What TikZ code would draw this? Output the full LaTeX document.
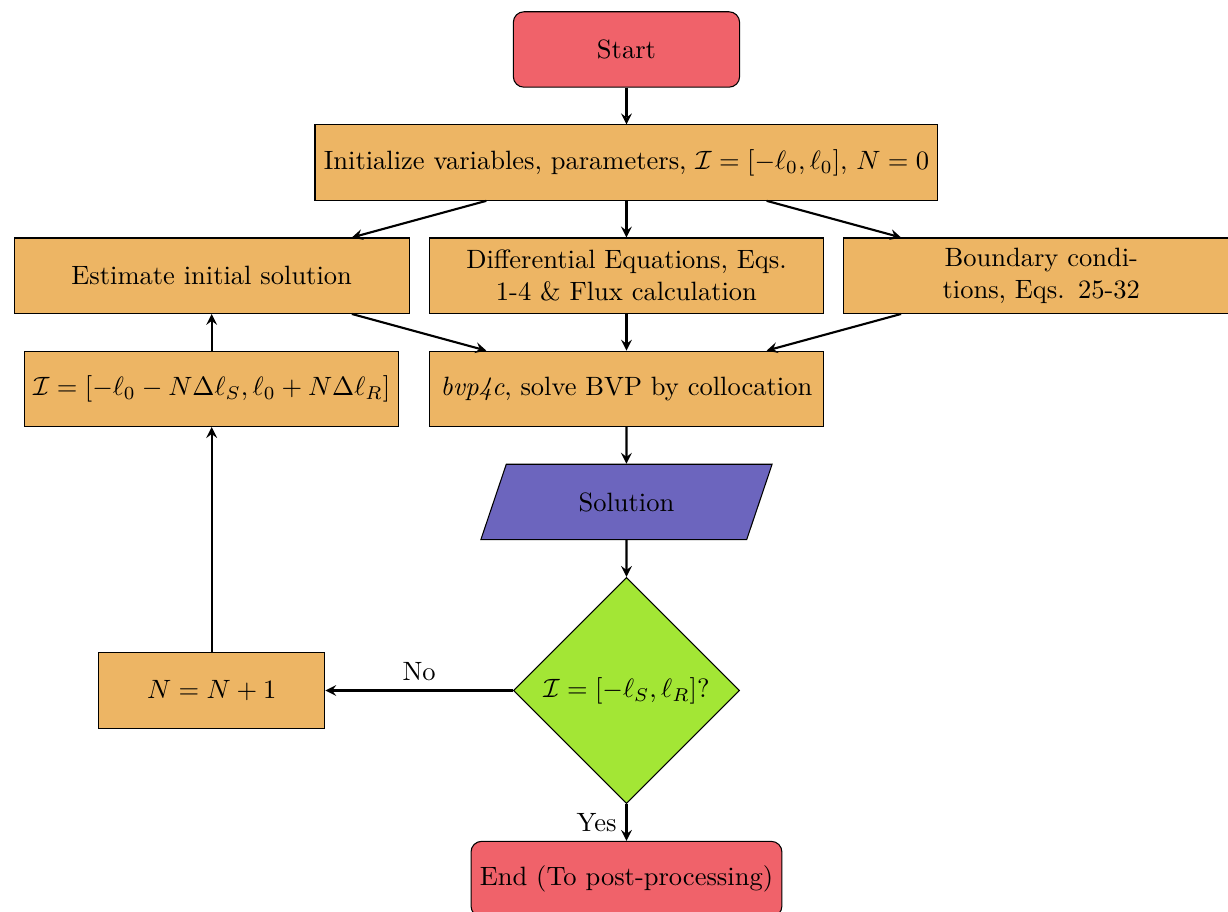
\documentclass[tikz,border=0pt]{standalone}
\usepackage{tikz}
\usetikzlibrary{positioning, shapes, arrows}

\definecolor{termred}{RGB}{240,98,106}
\definecolor{procorange}{RGB}{237,181,100}
\definecolor{iopurple}{RGB}{108,101,190}
\definecolor{decgreen}{RGB}{163,230,53}

\begin{document}
\begin{tikzpicture}[node distance = 1.5cm, auto]
% Define block styles
\tikzstyle{startstop} = [rectangle, draw, rounded corners, fill=termred,
    minimum width=3cm, minimum height=1cm, text centered]
\tikzstyle{process} = [rectangle, draw, fill=procorange,
    minimum width=3cm, minimum height=1cm, text centered]
\tikzstyle{wide} = [process, text width=5cm]
\tikzstyle{io} = [trapezium, draw, fill=iopurple, trapezium left angle=72,
    trapezium right angle=108, trapezium stretches=true,
    minimum width=3.88cm, minimum height=1cm, text centered]
\tikzstyle{decision} = [diamond, draw, fill=decgreen, minimum width=3cm,
    minimum height=3cm, text centered, inner sep=0pt]
\tikzstyle{line} = [draw, thick, -stealth]
    \useasboundingbox (-8.307,0.656) rectangle (7.976,-11.424);
    % Place nodes
    \node [startstop] (start) {Start};
    \node [process, below of=start] (init) {Initialize variables, parameters, $\mathcal{I}=[-\ell_0,\ell_0]$, $N=0$};
    \node [wide, below of=init] (diffeq) {Differential Equations, Eqs. 1-4 \& Flux calculation};
    \node [wide, left of=diffeq, node distance=5.5cm] (estimate) {Estimate initial solution};
    \node [wide, right of=diffeq, node distance=5.5cm] (bcs) {Boundary conditions, Eqs. 25-32};
    \node [wide, below of=diffeq] (bvp) {\textit{bvp4c}, solve BVP by collocation};
    \node [process, left of=bvp, node distance=5.5cm] (range) {$\mathcal{I}=[-\ell_0-N\Delta\ell_S,\ell_0+N\Delta\ell_R]$};
    \node [io, below of=bvp] (sol) {Solution};
    \node [decision, below of=sol, node distance=2.5cm] (check) {$\mathcal{I}=[-\ell_S,\ell_R]$?};
    \node [process, left of=check, node distance=5.5cm] (incr) {$N=N+1$};
    \node [startstop, below of=check, node distance=2.5cm] (stop) {End (To post-processing)};
    % Draw edges
    \path [line] (start) -- (init);
    \path [line] (init) -- (estimate);
    \path [line] (init) -- (diffeq);
    \path [line] (init) -- (bcs);
    \path [line] (estimate) -- (bvp);
    \path [line] (diffeq) -- (bvp);
    \path [line] (bcs) -- (bvp);
    \path [line] (bvp) -- (sol);
    \path [line] (sol) -- (check);
    \path [line] (check) -- node [above] {No} (incr);
    \path [line] (check) -- node [left] {Yes} (stop);
    \path [line] (incr) -- (range);
    \path [line] (range) -- (estimate);
\end{tikzpicture}
\end{document}
